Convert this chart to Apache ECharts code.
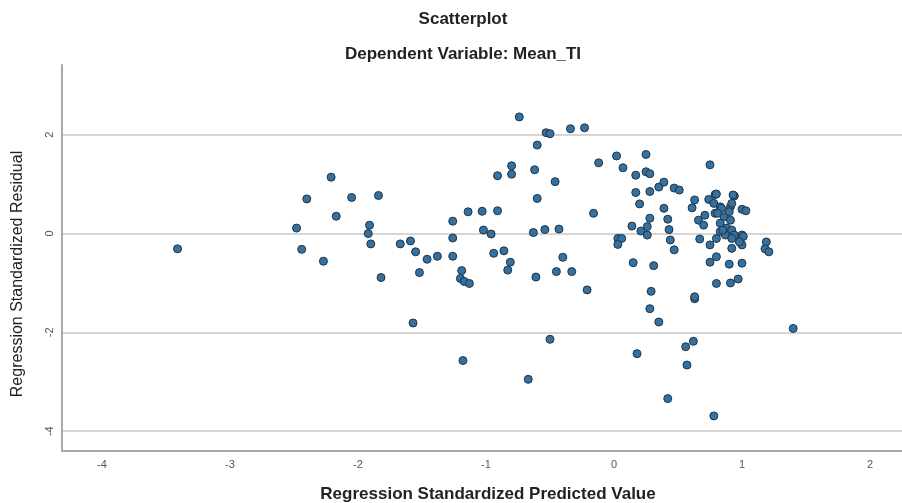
<!DOCTYPE html>
<html>
<head>
<meta charset="utf-8">
<script src="https://cdn.jsdelivr.net/npm/echarts@6/dist/echarts.min.js"></script>
<style>html,body{margin:0;padding:0;background:#fff}#c{width:902px;height:503px}</style>
</head>
<body>
<div id="c"></div>
<script>
const xTicks = [-4, -3, -2, -1, 0, 1, 2];
const yTicks = [-4, -2, 0, 2];
const predicted = [
  -3.41, -2.21, -2.40, -2.05, -2.17, -2.48, -2.44, -2.27,
  -1.84, -1.91, -1.92, -1.90, -1.82, -1.67, -1.59, -1.55, -1.46, -1.38, -1.52, -1.57,
  -1.26, -1.26, -1.26, -1.14, -1.03, -0.91, -1.19, -1.20, -1.17, -1.13, -1.18,
  -1.02, -0.96, -0.94, -0.86, -0.81, -0.83, -0.91, -0.80, -0.80, -0.74, -0.60,
  -0.53, -0.50, -0.62, -0.46, -0.60, -0.34, -0.23, -0.12, 0.02, -0.16,
  -0.63, -0.54, -0.43, -0.61, -0.45, -0.40, -0.33, -0.21, -0.50, -0.67, 0.03,
  0.07, 0.25, 0.17, 0.25, 0.28, 0.17, 0.28, 0.20, 0.35, 0.39, 0.47, 0.51,
  0.39, 0.42, 0.28, 0.26, 0.21, 0.26, 0.14, 0.06, 0.03, 0.43, 0.44, 0.47,
  0.15, 0.31, 0.29, 0.28, 0.35, 0.18, 0.63, 0.56, 0.62, 0.57, 0.42, 0.78, 1.40,
  0.75, 0.63, 0.61, 0.74, 0.79, 0.94, 0.78, 0.71, 0.66, 0.70, 0.83, 0.91, 1.00,
  1.03, 0.79, 0.86, 0.91, 0.83, 0.88, 0.92, 0.83, 0.87, 0.94, 1.00, 1.01,
  0.67, 0.75, 0.80, 0.92, 0.92, 1.00, 1.19, 1.18, 1.21, 0.80, 0.75, 0.90,
  1.00, 0.80, 0.91, 0.97, 0.63, 0.80, 0.93, 0.92, 0.84, 0.90, 0.81, 0.85, 0.98
];
const residual = [
  -0.31, 1.14, 0.70, 0.73, 0.35, 0.11, -0.32, -0.56,
  0.77, 0.17, 0.00, -0.21, -0.89, -0.21, -0.15, -0.37, -0.52, -0.46, -0.79, -1.81,
  0.25, -0.09, -0.46, 0.44, 0.45, 0.46, -0.75, -0.91, -0.97, -1.01, -2.57,
  0.07, -0.01, -0.40, -0.35, -0.58, -0.74, 1.17, 1.37, 1.20, 2.36, 1.79,
  2.04, 2.02, 1.29, 1.05, 0.71, 2.12, 2.14, 1.43, 1.57, 0.41,
  0.02, 0.08, 0.09, -0.88, -0.77, -0.48, -0.77, -1.14, -2.14, -2.95, -0.10,
  1.33, 1.60, 1.18, 1.25, 0.85, 0.83, 1.21, 0.60, 0.94, 1.04, 0.92, 0.88,
  0.51, 0.29, 0.31, 0.14, 0.05, -0.03, 0.15, -0.10, -0.22, 0.08, -0.13, -0.33,
  -0.59, -0.65, -1.17, -1.52, -1.79, -2.43, -1.32, -2.29, -2.18, -2.66, -3.34, -3.69, -1.92,
  1.39, 0.68, 0.52, 0.69, 0.79, 0.76, 0.61, 0.37, 0.27, 0.17, 0.54, 0.54, 0.49,
  0.46, 0.41, 0.34, 0.27, 0.21, 0.11, 0.07, 0.04, -0.03, -0.03, -0.03, -0.06,
  -0.11, -0.23, -0.10, -0.10, -0.30, -0.23, -0.17, -0.31, -0.37, -0.47, -0.58, -0.62,
  -0.60, -1.01, -1.00, -0.92, -1.28, 0.80, 0.78, 0.61, 0.51, 0.44, 0.41, 0.07, -0.17
];
const points = predicted.map((v, i) => [v, residual[i]]);

const FONT = 'Liberation Sans, Arial, sans-serif';
const chart = echarts.init(document.getElementById('c'), null, {renderer: 'canvas'});
chart.setOption({
  animation: false,
  backgroundColor: '#ffffff',
  title: [
    {text: 'Scatterplot', left: 458, top: 6, textAlign: 'center',
     textStyle: {fontFamily: FONT, fontSize: 17, fontWeight: 'bold', color: '#222'}},
    {text: 'Dependent Variable: Mean_TI', left: 458, top: 41, textAlign: 'center',
     textStyle: {fontFamily: FONT, fontSize: 17, fontWeight: 'bold', color: '#222'}}
  ],
  grid: {left: 62, right: 0, top: 65, bottom: 52, containLabel: false, outerBoundsMode: 'none'},
  xAxis: {
    type: 'value', min: -4.3125, max: 2.25,
    name: 'Regression Standardized Predicted Value', nameLocation: 'middle', nameGap: 35,
    nameTextStyle: {fontFamily: FONT, fontSize: 17, fontWeight: 'bold', color: '#222', padding: [0, 0, 0, 12]},
    axisLine: {show: true, onZero: false, lineStyle: {color: '#a8a8a8', width: 2}},
    axisTick: {show: false, customValues: xTicks},
    axisLabel: {customValues: xTicks, margin: 8, fontSize: 11, color: '#555', fontFamily: FONT},
    splitLine: {show: false}
  },
  yAxis: {
    type: 'value', min: -4.4, max: 3.41,
    name: 'Regression Standardized Residual', nameLocation: 'middle', nameGap: 36,
    nameTextStyle: {fontFamily: FONT, fontSize: 16, color: '#222', padding: [0, 32, 0, 0]},
    axisLine: {show: true, onZero: false, lineStyle: {color: '#a8a8a8', width: 2}},
    axisTick: {show: false, customValues: yTicks},
    axisLabel: {customValues: yTicks, rotate: 90, margin: 7, fontSize: 11, color: '#555', fontFamily: FONT},
    splitLine: {show: true, lineStyle: {color: '#d6d6d6', width: 2}}
  },
  series: [{
    type: 'scatter',
    data: points,
    symbol: 'circle',
    symbolSize: 8,
    itemStyle: {color: '#35709e', borderColor: '#1e3549', borderWidth: 1, opacity: 1}
  }]
});
</script>
</body>
</html>
